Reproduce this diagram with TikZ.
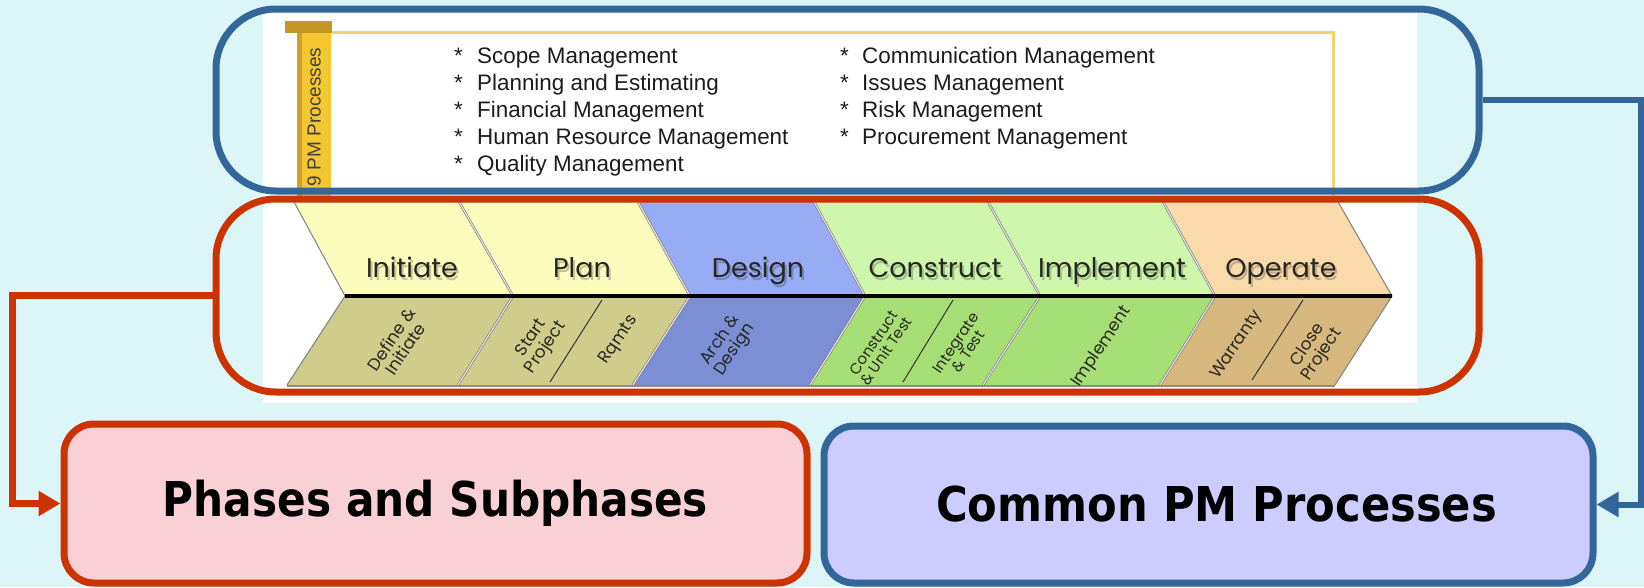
\documentclass[tikz,border=0pt]{standalone}
\usepackage{fontspec}
\usepackage{graphicx}
\setmainfont{Liberation Sans}
\newfontfamily\boxfont{DejaVu Sans}
\newfontfamily\phasefont{Poppins}
\usetikzlibrary{arrows.meta}

\definecolor{bg}{RGB}{220,246,247}
\definecolor{pmblue}{RGB}{51,102,153}
\definecolor{pmred}{RGB}{204,51,0}
\definecolor{pinkfill}{RGB}{248,208,214}
\definecolor{lilacfill}{RGB}{204,204,255}
\definecolor{paleyellow}{RGB}{252,252,190}
\definecolor{khaki}{RGB}{208,204,140}
\definecolor{periwinkle}{RGB}{152,172,246}
\definecolor{deepperi}{RGB}{124,142,212}
\definecolor{palegreen}{RGB}{206,246,172}
\definecolor{midgreen}{RGB}{166,222,118}
\definecolor{peach}{RGB}{250,218,170}
\definecolor{pmtan}{RGB}{214,184,126}
\definecolor{tabgold}{RGB}{244,198,48}
\definecolor{tabdark}{RGB}{196,150,36}
\definecolor{frameyellow}{RGB}{240,214,110}
\definecolor{listink}{RGB}{28,28,28}
\definecolor{phaseink}{RGB}{40,40,34}

\tikzset{
  frame/.style={draw, line width=7pt, rounded corners=60pt, inner sep=0pt},
  bigbox/.style={draw, line width=7pt, rounded corners=30pt, inner sep=0pt,
    font=\boxfont\bfseries\fontsize{48}{56}\selectfont},
  listitem/.style={anchor=base west, inner sep=0pt, text=listink,
    font=\fontsize{22.4}{27}\selectfont},
  phaselabel/.style={anchor=base, inner sep=0pt, text=phaseink,
    font=\phasefont\fontsize{27}{30}\selectfont},
  phaseshadow/.style={anchor=base, inner sep=0pt, text=black, opacity=0.22,
    font=\phasefont\fontsize{27}{30}\selectfont},
  sublabel/.style={rotate=56, align=center, inner sep=0pt, text=phaseink,
    font=\phasefont\fontsize{17}{17}\selectfont},
  smallsub/.style={sublabel, font=\phasefont\fontsize{15}{15}\selectfont},
  seam/.style={draw=black!55, double=white!90!black, double distance=1.2pt, line width=0.6pt},
  edge/.style={draw=black!50, line width=1pt},
  slash/.style={draw=black!80, line width=1pt},
  conn/.style={line width=#1, -{Triangle[length=22pt,width=24pt]}},
}

\begin{document}
\begin{tikzpicture}[x=1pt,y=-1pt]
  % canvas
  \useasboundingbox (0,0) rectangle (1644,587);
  \fill[bg] (0,0) rectangle (1644,587);

  % white panel behind the process list and the phase chevrons
  \fill[white] (263,10) rectangle (1417,403);

  % yellow frame around the process list, with its labelled tab
  \draw[frameyellow, line width=3pt] (332,32) -- (1333,32) -- (1333,197);
  \fill[tabgold] (297,33) rectangle (331,200);
  \fill[tabdark!80!tabgold] (297,33) rectangle (302,200);
  \fill[tabdark] (285,21) rectangle (332,33);
  \node[rotate=90, inner sep=0pt, text=black!75, font=\fontsize{19}{22}\selectfont]
    (tabtext) at (314,117) {9 PM Processes};

  % the nine PM processes
  \node[listitem] (scope) at (454,63)  {\makebox[23pt][l]{*}Scope Management};
  \node[listitem] (plan)  at (454,90)  {\makebox[23pt][l]{*}Planning and Estimating};
  \node[listitem] (fin)   at (454,117) {\makebox[23pt][l]{*}Financial Management};
  \node[listitem] (hr)    at (454,144) {\makebox[23pt][l]{*}Human Resource Management};
  \node[listitem] (qual)  at (454,171) {\makebox[23pt][l]{*}Quality Management};
  \node[listitem] (comm)  at (840,63)  {\makebox[22pt][l]{*}Communication Management};
  \node[listitem] (iss)   at (840,90)  {\makebox[22pt][l]{*}Issues Management};
  \node[listitem] (risk)  at (840,117) {\makebox[22pt][l]{*}Risk Management};
  \node[listitem] (proc)  at (840,144) {\makebox[22pt][l]{*}Procurement Management};

  % phase chevrons: upper band (phases) and lower band (subphases)
  \foreach \ta/\tb/\ba/\bb/\la/\lb/\up/\lo in {
      293/458/345/513/287/458/paleyellow/khaki,
      458/637/513/690/458/633/paleyellow/khaki,
      637/813/690/865/633/810/periwinkle/deepperi,
      813/987/865/1040/810/983/palegreen/midgreen,
      987/1162/1040/1215/983/1160/palegreen/midgreen,
      1162/1337/1215/1392/1160/1335/peach/pmtan} {
    \fill[\up] (\ta,200) -- (\tb,200) -- (\bb,296) -- (\ba,296) -- cycle;
    \fill[\lo] (\ba,296) -- (\bb,296) -- (\lb,385) -- (\la,385) -- cycle;
  }
  \foreach \t/\b/\l in {458/513/458, 637/690/633, 813/865/810, 987/1040/983, 1162/1215/1160}
    \draw[seam] (\t,200) -- (\b,296) -- (\l,385);
  \draw[edge] (293,200) -- (345,296) -- (287,385);
  \draw[edge] (1337,200) -- (1392,296) -- (1335,385);
  \draw[black!45, line width=2pt] (287,386) -- (1335,386);
  \draw[black, line width=4pt] (345,296) -- (1392,296);

  % slashes separating subphases
  \draw[slash] (602,300) -- (550,382);
  \draw[slash] (953,300) -- (903,382);
  \draw[slash] (1303,300) -- (1252,380);

  % phase names with soft shadows
  \foreach \nm/\x/\txt in {ini/412/Initiate, pln/582/Plan, des/758/Design,
                          con/935/Construct, imp/1112/Implement, ope/1281/Operate} {
    \node[phaseshadow] (\nm-sh) at (\x+2,280) {\txt};
    \node[phaselabel] (\nm) at (\x,277) {\txt};
  }

  % subphase names
  \node[sublabel] (sdef)   at (398,344) {Define \&\\Initiate};
  \node[sublabel] (sstart) at (539,343) {Start\\Project};
  \node[sublabel] (sreq)   at (619,340) {Rqmts};
  \node[sublabel] (sarch)  at (728,345) {Arch \&\\Design};
  \node[smallsub] (sunit)  at (880,347) {Construct\\\& Unit Test};
  \node[smallsub] (sint)   at (962,347) {Integrate\\\& Test};
  \node[sublabel] (simp)   at (1102,347) {Implement};
  \node[sublabel] (swar)   at (1237,345) {Warranty};
  \node[sublabel] (sclose) at (1315,350) {Close\\Project};

  % outline frames
  \node[frame, draw=pmblue, minimum width=1263pt, minimum height=182pt]
    (procframe) at (847.5,100) {};
  \node[frame, draw=pmred, minimum width=1263pt, minimum height=193pt]
    (phaseframe) at (847.5,295.5) {};

  % bottom summary boxes
  \node[bigbox, draw=pmred, fill=pinkfill, minimum width=743pt, minimum height=159pt]
    (phasebox) at (435.5,503.5) {\scalebox{0.88}[1]{Phases and Subphases}};
  \node[bigbox, draw=pmblue, fill=lilacfill, minimum width=769pt, minimum height=157pt]
    (procbox) at (1208.5,504.5) {\hspace*{16pt}\scalebox{0.9}[1]{Common PM Processes}};

  % connectors
  \coordinate (redrail) at (12,0);
  \coordinate (bluerail) at (1641,0);
  \draw[conn=7pt, pmred] (phaseframe.west) -- (phaseframe.west -| redrail) |- (phasebox.west);
  \draw[conn=6pt, pmblue] (procframe.east) -- (procframe.east -| bluerail) |- (procbox.east);
\end{tikzpicture}
\end{document}
